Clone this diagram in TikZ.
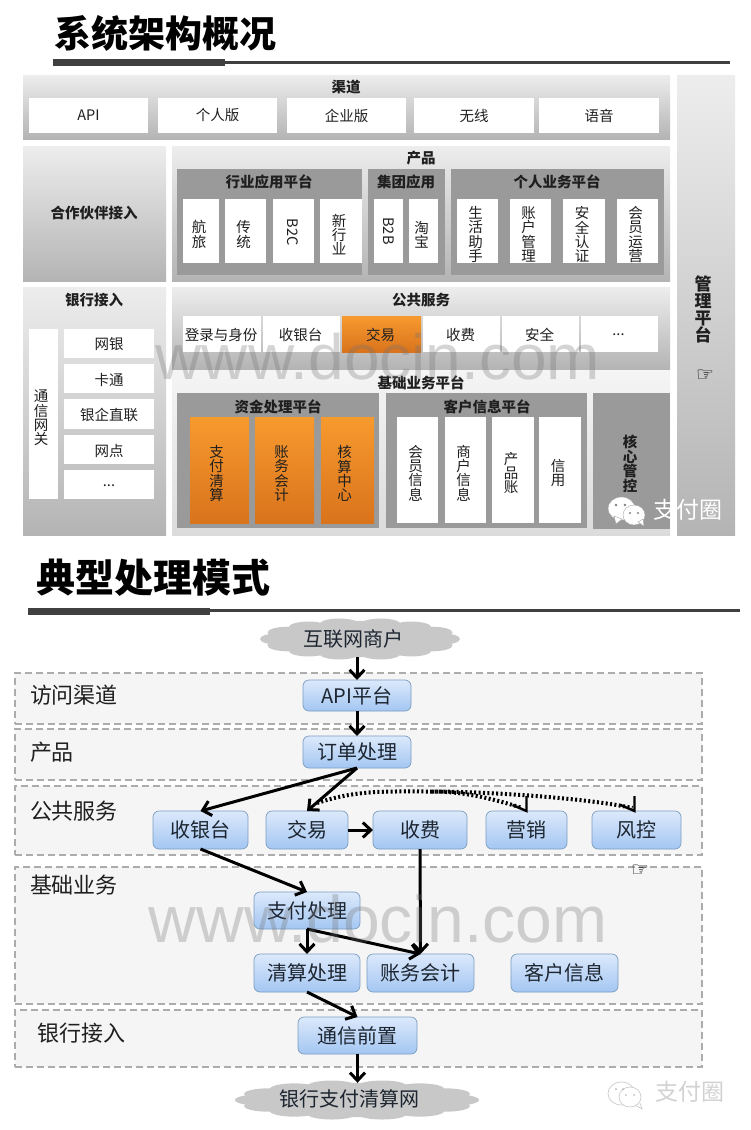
\documentclass[tikz,border=0pt]{standalone}
\usepackage{fontspec}
\usepackage{graphicx}
\setmainfont{Noto Sans CJK SC}
\newfontfamily\dejavu{DejaVu Sans}
\newfontfamily\wmfont{Liberation Sans}
\usetikzlibrary{arrows.meta,shapes.geometric,calc}
\newcommand{\fs}[1]{\fontsize{#1}{#1}\selectfont}
\newcommand{\fv}[2]{\fontsize{#1}{#2}\selectfont\lineskiplimit=-30pt\relax}
% \bx{name}{style}{x0}{y0}{x1}{y1}
\newcommand{\bx}[6]{%
  \pgfmathsetmacro{\bw}{#5-#3}\pgfmathsetmacro{\bh}{#6-#4}%
  \pgfmathsetmacro{\bcx}{(#3+#5)/2}\pgfmathsetmacro{\bcy}{(#4+#6)/2}%
  \node[#2,minimum width=\bw pt,minimum height=\bh pt] (#1) at (\bcx,\bcy) {};}
\definecolor{pa}{HTML}{EDEDED}\definecolor{pb}{HTML}{B4B4B4}
\definecolor{gr}{HTML}{9A9A9A}
\definecolor{oa}{HTML}{F79A2E}\definecolor{ob}{HTML}{D9731C}
\definecolor{na}{HTML}{DCE9FB}\definecolor{nb}{HTML}{A3C6F2}
\definecolor{nl}{HTML}{7A9CC0}
\definecolor{cg}{HTML}{C8C8C8}
\definecolor{ink}{HTML}{1C2530}
% \cloudy{name}{cx}{cy}{w}{h}
\newcommand{\cloudy}[5]{%
  \node[base,ellipse,fill=cg,minimum width=.84*#4 pt,minimum height=.86*#5 pt] (#1) at (#2,#3) {};
  \foreach \ang in {0,25,50,75,105,130,155,180,205,230,255,285,310,335}{
    \fill[cg] ($(#1)+({.40*#4*cos(\ang)},{.36*#5*sin(\ang)})$) ellipse ({.10*#4} and {.14*#5});
  }}
\tikzset{
 base/.style={inner sep=0pt,outer sep=0pt,draw=none},
 panel/.style={base,top color=pa,bottom color=pb},
 panelb/.style={base,top color=white!92!gray,bottom color=white!72!gray},
 sub/.style={base,fill=gr},
 wbox/.style={base,fill=white},
 obox/.style={base,top color=oa,bottom color=ob},
 band/.style={base,draw=gray!65,line width=1.2pt,dash pattern=on 7pt off 4pt,fill=black!4},
 flow/.style={base,draw=nl,line width=.7pt,rounded corners=6pt,top color=na,bottom color=nb},
 txt/.style={inner sep=0pt,outer sep=0pt,text=black!88,align=center},
 tit/.style={txt,font=\fs{14.5}\bfseries},
 reg/.style={txt,font=\fs{14.5}},
 vtx/.style={txt,font=\fv{14.5}{14.3}},
 big/.style={txt,font=\fs{22}},
 flowt/.style={txt,text=ink,font=\fs{20}},
 arr/.style={line width=3pt,-{Straight Barb[length=8pt,width=15pt]},black},
 darr/.style={line width=4pt,dash pattern=on 2pt off 2.4pt,black},
 wm/.style={inner sep=0pt,text=black!55,opacity=.3,font=\wmfont\fs{64}},
}
\begin{document}
\begin{tikzpicture}[x=1pt,y=-1pt]
\useasboundingbox (0,0) rectangle (750,1130);
\fill[white] (0,0) rectangle (750,1130);
% ---- title 1
\node[txt,text=black,font=\fs{37}\bfseries] (t1) at (165,33) {系统架构概况};
\bx{t1a}{base,fill=black!75}{53}{59}{225}{66}
\bx{t1b}{base,fill=black!75}{225}{61}{730}{64}
% panels
\bx{mgmt}{panel}{677}{75}{735}{535}
\node[txt,font=\fv{17}{17}\bfseries] (mgmtt) at (703,309) {管\\理\\平\\台};
\node[txt,text=black,font=\dejavu\fs{20}] (hand1) at (705,376) {☞};
\bx{chan}{panel}{23}{75}{670}{139}
\node[tit] (chant) at (346,87) {渠道};
\foreach \n/\a/\b/\t in {c1/29/148/API,c2/158/277/个人版,c3/287/406/企业版,c4/414/534/无线,c5/539/659/语音}{
  \bx{\n}{wbox}{\a}{98}{\b}{133}
  \node[reg] (\n t) at (\n) {\t};
}
\bx{partner}{panel}{23}{146}{166}{281}
\node[tit] (partnert) at (94,213) {合作伙伴接入};
\bx{prod}{panel}{172}{146}{670}{281}
\node[tit] (prodt) at (421,158) {产品};
\bx{g1}{sub}{177}{169}{362}{275}
\bx{g2}{sub}{368}{169}{445}{275}
\bx{g3}{sub}{451}{169}{664}{275}
\node[tit] (g1t) at (269,182) {行业应用平台};
\node[tit] (g2t) at (406,182) {集团应用};
\node[tit] (g3t) at (557,182) {个人业务平台};
\foreach \n/\a/\b/\t in {p1/183/219/航\\旅,p2/225/266/传\\统,p4/320/362/新\\行\\业,p6/409/438/淘\\宝,p7/457/498/生\\活\\助\\手,p8/510/551/账\\户\\管\\理,p9/563/605/安\\全\\认\\证,p10/617/658/会\\员\\运\\营}{
  \bx{\n}{wbox}{\a}{199}{\b}{263}
  \node[vtx] (\n t) at ($(\n)+(-2,3.5)$) {\t};
}
\bx{p3}{wbox}{273}{199}{314}{263}
\bx{p5}{wbox}{374}{199}{403}{263}
\node[reg] (p3t) at ($(p3)+(-1,1)$) {\rotatebox{-90}{B2C}};
\node[reg] (p5t) at ($(p5)+(0,0)$) {\rotatebox{-90}{B2B}};
% bank panel
\bx{bank}{panel}{23}{287}{166}{535}
\node[tit] (bankt) at (94,300) {银行接入};
\bx{gw}{wbox}{29}{329}{58}{499}
\node[vtx] (gwt) at (41,418) {通\\信\\网\\关};
\foreach \n/\a/\b/\t in {b1/329/358/网银,b2/364/393/卡通,b3/399/429/银企直联,b4/435/464/网点}{
  \bx{\n}{wbox}{64}{\a}{154}{\b}
  \node[reg] (\n t) at ($(\n)+(0,1)$) {\t};
}
\bx{b5}{wbox}{64}{470}{154}{499}
\node[reg] (b5t) at ($(b5)+(0,1)$) {...};
% public service
\bx{pub}{panel}{172}{287}{670}{369}
\node[tit] (pubt) at (421,300) {公共服务};
\foreach \n/\a/\b/\t in {s1/183/261/登录与身份,s2/263/340/收银台,s4/423/500/收费,s5/502/579/安全}{
  \bx{\n}{wbox}{\a}{316}{\b}{352}
  \node[reg] (\n t) at ($(\n)+(-1,1)$) {\t};
}
\bx{s6}{wbox}{581}{316}{658}{352}
\node[reg] (s6t) at ($(s6)+(-1,1)$) {...};
\bx{s3}{obox}{342}{316}{421}{352}
\node[reg] (s3t) at ($(s3)+(-1,1)$) {交易};
% base platform
\bx{basep}{panelb}{172}{370}{670}{535}
\node[tit] (basept) at (421,383) {基础业务平台};
\bx{f1}{sub}{177}{393}{379}{528}
\bx{f2}{sub}{386}{393}{587}{528}
\bx{f3}{sub}{593}{393}{670}{529}
\node[tit] (f1t) at (278,407) {资金处理平台};
\node[tit] (f2t) at (487,407) {客户信息平台};
\node[txt,font=\fv{14.5}{14.5}\bfseries] (f3t) at (630,464) {核\\心\\管\\控};
\foreach \n/\a/\b/\t in {o1/190/249/支\\付\\清\\算,o2/255/314/账\\务\\会\\计,o3/321/374/核\\算\\中\\心}{
  \bx{\n}{obox}{\a}{417}{\b}{523}
  \node[vtx] (\n t) at ($(\n)+(-3,3.5)$) {\t};
}
\foreach \n/\a/\b/\t in {w1/397/438/会\\员\\信\\息,w2/445/486/商\\户\\信\\息,w3/492/534/产\\品\\账,w4/539/581/信\\用}{
  \bx{\n}{wbox}{\a}{417}{\b}{523}
  \node[vtx] (\n t) at ($(\n)+(-2,3)$) {\t};
}
% ---- title 2
\node[txt,text=black,font=\fs{39}\bfseries] (t2) at (153,578) {典型处理模式};
\bx{t2a}{base,fill=black!75}{28}{608}{210}{615}
\bx{t2b}{base,fill=black!75}{210}{609}{740}{612}
% bands
\bx{r1}{band}{15}{673}{702}{724}
\bx{r2}{band}{15}{729}{702}{780}
\bx{r3}{band}{15}{786}{702}{855}
\bx{r4}{band}{15}{867}{702}{1004}
\bx{r5}{band}{15}{1010}{702}{1067}
\node[big,anchor=west] (r1t) at (30,695) {访问渠道};
\node[big,anchor=west] (r2t) at (30,752) {产品};
\node[big,anchor=west] (r3t) at (30,811) {公共服务};
\node[big,anchor=west] (r4t) at (30,885) {基础业务};
\node[big,anchor=west] (r5t) at (37,1033) {银行接入};
\node[txt,text=black,font=\dejavu\fs{20}] (hand2) at (640,871) {☞};
% clouds
\cloudy{top}{360}{639}{200}{42}
\node[flowt] (topt) at (353,639) {互联网商户};
\cloudy{bot}{357}{1100}{244}{40}
\node[flowt] (bott) at (349,1099) {银行支付清算网};
% flow nodes
\foreach \n/\a/\y/\b/\z/\t in {api/303/680/411/711/API平台,order/303/736/411/768/订单处理,cash/153/811/248/849/收银台,trade/266/811/348/849/交易,fee/373/811/467/849/收费,mkt/486/811/567/849/营销,risk/592/811/681/849/风控,pay/254/892/360/929/支付处理,clear/254/954/360/992/清算处理,acct/367/954/474/992/账务会计,cust/511/954/618/992/客户信息,front/298/1017/417/1054/通信前置}{
  \bx{\n}{flow}{\a}{\y}{\b}{\z}
  \node[flowt] (\n t) at (\n) {\t};
}
% connectors
\draw[arr] (api.north |- top.south) -- (api.north);
\draw[arr] (api.south) -- (order.north);
\draw[arr] (order.south) -- (cash.north);
\draw[arr] (order.south) -- (trade.north);
\draw[arr] (trade.east) -- (fee.west);
\draw[arr] (cash.south) -- (pay.north);
\draw[arr] (fee.south) -- (acct.north);
\draw[arr] (pay.south) -- (clear.north);
\draw[arr] (pay.south) -- (acct.north);
\draw[arr] (clear.south) -- (front.north);
\draw[arr] (front.south) -- (front.south |- bot.north);
\coordinate (ds) at ($(trade.north)+(10,-8)$);
\coordinate (dm) at ($(trade.north)+(125,-19.5)$);
\draw[darr] (ds) .. controls ($(ds)+(40,-13)$) and ($(dm)+(-50,0)$) .. (dm) .. controls ($(dm)+(55,0)$) and ($(risk.north)+(-50,-13)$) .. ($(risk.north)+(-4,-3)$);
\draw[darr] (dm) .. controls ($(dm)+(35,0)$) and ($(mkt.north)+(-30,-11)$) .. ($(mkt.north)+(-4,-3)$);
\draw[line width=2.4pt] ($(mkt.north)+(0,-15)$) -- (mkt.north) -- ($(mkt.north)+(-14,-6)$);
\draw[line width=2.4pt] ($(risk.north)+(-2,-15)$) -- ($(risk.north)+(-2,0)$) -- ($(risk.north)+(-16,-6)$);
% watermarks
\node[wm] (wm1) at (378,357) {www.docin.com};
\node[wm,font=\wmfont\fs{66}] (wm2) at (378,919) {www.docin.com};
% logos
\begin{scope}[shift={(608,497)}]
 \fill[white,draw=gray!70,line width=.4pt] (13.5,11.5) ellipse (13.5 and 11.5);
 \fill[white,draw=gray!70,line width=.4pt] (6,19) -- (8,27) -- (14,22) -- cycle;
 \fill[white,draw=gray!70,line width=.4pt] (26,18) ellipse (11 and 10);
 \fill[white,draw=gray!70,line width=.4pt] (30,25) -- (36,29) -- (35,22) -- cycle;
 \fill[gray] (8,8) circle (1.3) (17,8) circle (1.3) (22,16) circle (1.1) (30,16) circle (1.1);
\end{scope}
\node[txt,text=white,font=\fs{23}] (wx1) at (688,510) {支付圈};
\begin{scope}[shift={(608,1082)}]
 \draw[gray!40,line width=.7pt] (13.5,11.5) ellipse (13.5 and 11.5);
 \draw[gray!40,line width=.7pt,fill=white] (22,15) ellipse (11 and 10);
 \draw[gray!40,line width=.7pt] (27,23) -- (34,27) -- (32,21);
 \fill[gray!60] (8,7) circle (1) (15,7) circle (1) (18,13) circle (.9) (26,13) circle (.9);
\end{scope}
\node[txt,text=gray!35,font=\fs{23}] (wx2) at (690,1092) {支付圈};
\end{tikzpicture}
\end{document}
